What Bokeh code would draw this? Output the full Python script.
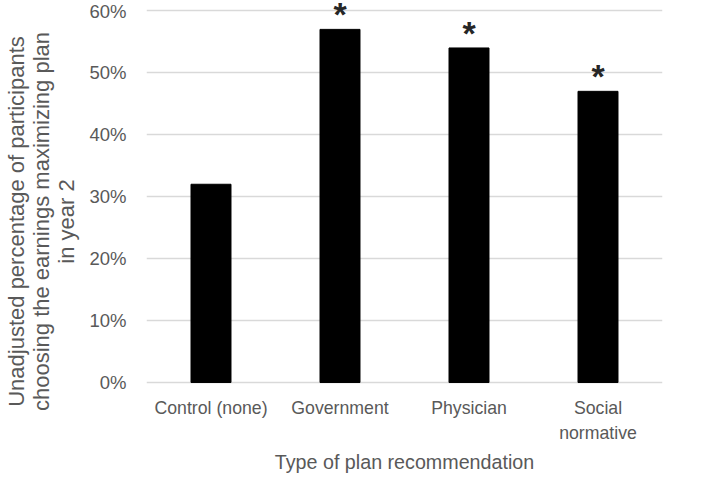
from bokeh.plotting import figure
from bokeh.models import ColumnDataSource, NumeralTickFormatter, FixedTicker, FactorRange, Title
from bokeh.core.properties import value
from bokeh.embed import file_html
from bokeh.resources import INLINE

categories = ["Control (none)", "Government", "Physician", "Social normative"]
tick_line1 = ["Control (none)", "Government", "Physician", "Social"]
tick_line2 = ["", "", "", "normative"]
percent_choosing = [0.32, 0.57, 0.54, 0.47]
significance = ["", "*", "*", "*"]
y_ticks = [0.0, 0.1, 0.2, 0.3, 0.4, 0.5, 0.6]
y_start, y_end = -0.0952, 0.615   # lower part of frame holds the category labels

FONT = "Liberation Sans"
GRAY = "#595959"

src = ColumnDataSource(dict(cat=categories, val=percent_choosing, l1=tick_line1,
                            base=[0.0] * len(categories)))
sig_idx = [i for i, s in enumerate(significance) if s]
sig_src = ColumnDataSource(dict(cat=[categories[i] for i in sig_idx],
                                val=[percent_choosing[i] for i in sig_idx],
                                sig=[significance[i] for i in sig_idx]))
l2_idx = [i for i, t in enumerate(tick_line2) if t]
l2_src = ColumnDataSource(dict(cat=[categories[i] for i in l2_idx],
                               l2=[tick_line2[i] for i in l2_idx],
                               base=[0.0] * len(l2_idx)))

p = figure(width=719, height=479, output_backend="svg", toolbar_location=None,
           x_range=FactorRange(*categories, range_padding=0), y_range=(y_start, y_end),
           min_border_left=146, min_border_right=57, min_border_top=1, min_border_bottom=38)
p.outline_line_color = None
p.background_fill_color = "white"
p.border_fill_color = "white"

p.vbar(x="cat", top="val", width=0.31, source=src, fill_color="black", line_color="black")
p.text(x="cat", y="val", text="sig", source=sig_src, text_align="center", text_baseline="middle",
       y_offset=-15, text_font=value(FONT), text_font_size="34px", text_font_style="bold",
       text_color="#262626")

# category labels (two lines)
p.text(x="cat", y="base", text="l1", source=src, text_align="center", text_baseline="middle",
       y_offset=25, text_font=value(FONT), text_font_size="17.7px", text_color=GRAY)
p.text(x="cat", y="base", text="l2", source=l2_src, text_align="center", text_baseline="middle",
       y_offset=50, text_font=value(FONT), text_font_size="17.7px", text_color=GRAY)

p.xgrid.grid_line_color = None
p.ygrid.ticker = FixedTicker(ticks=y_ticks)
p.ygrid.grid_line_color = "#d9d9d9"
p.ygrid.grid_line_width = 1.5
p.yaxis.ticker = FixedTicker(ticks=y_ticks)
p.yaxis.formatter = NumeralTickFormatter(format="0%")
p.yaxis.axis_line_color = None
p.yaxis.major_tick_line_color = None
p.yaxis.minor_tick_line_color = None
p.yaxis.major_label_text_font = FONT
p.yaxis.major_label_text_font_size = "18.5px"
p.yaxis.major_label_text_color = GRAY
p.yaxis.major_label_standoff = 14
p.yaxis.axis_label = "Unadjusted percentage of participants\nchoosing the earnings maximizing plan\nin year 2"
p.yaxis.axis_label_text_font = FONT
p.yaxis.axis_label_text_font_size = "22px"
p.yaxis.axis_label_text_font_style = "normal"
p.yaxis.axis_label_text_color = GRAY
p.yaxis.axis_label_text_align = "center"
p.yaxis.axis_label_text_line_height = 1.0
p.yaxis.axis_label_standoff = 7

p.xaxis.visible = False
p.add_layout(Title(text="Type of plan recommendation", align="center", text_font=FONT,
                   text_font_size="19.7px", text_font_style="normal", text_color=GRAY,
                   standoff=14), "below")

open("out.html", "w").write(file_html(p, INLINE))
